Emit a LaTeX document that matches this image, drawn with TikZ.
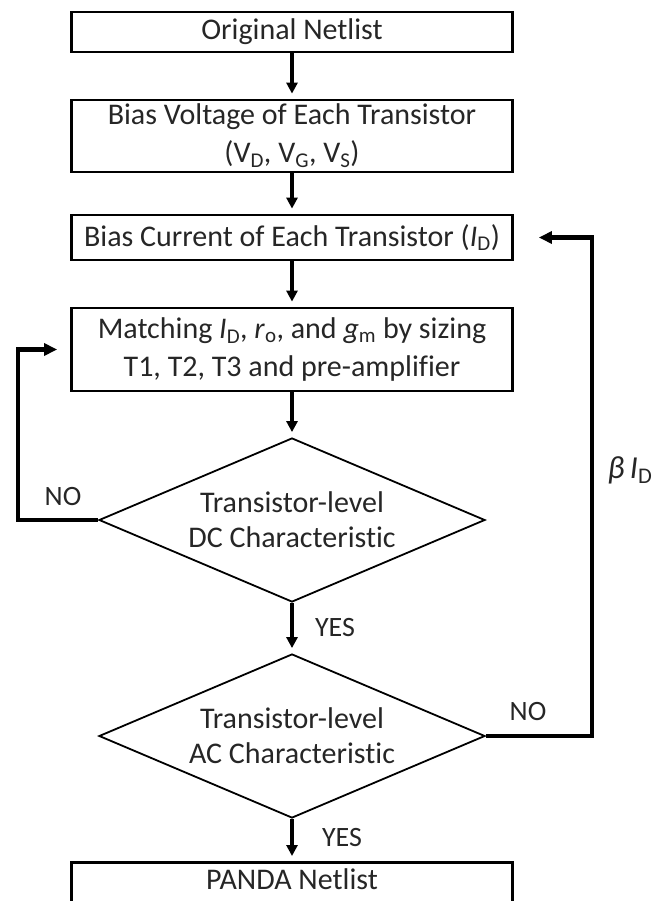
\documentclass[tikz,border=0pt]{standalone}
\usepackage{fontspec}
\setmainfont{Carlito}[Ligatures=NoCommon]
\usepackage{tikz}
\usetikzlibrary{shapes.geometric, arrows.meta, positioning, calc}
\tikzset{
	flowtext/.style={font=\fontsize{30}{38}\selectfont, text=black!85}
}
\tikzset{
	labeltext/.style={font=\fontsize{28}{30}\selectfont, text=black!85}
}
\tikzset{
	flowbox/.style={draw, line width=2.8pt, minimum width=441pt, inner sep=0pt, align=center, flowtext}
}
\tikzset{
	decision/.style={diamond, draw, line width=1.8pt, aspect=2.35, minimum width=386pt, minimum height=164pt, inner sep=-6pt, align=center, font=\fontsize{30}{35}\selectfont, text=black!85}
}
\tikzset{
	flowarrow/.style={line width=3.6pt, -{Triangle[length=11pt,width=11pt]}, shorten >=5pt}
}
\tikzset{
	loopline/.style={line width=4.6pt, -{Triangle[length=13pt,width=12pt]}}
}
\newcommand{\lowtxt}[1]{\textsubscript{#1}}

\begin{document}
\begin{tikzpicture}[x=1pt, y=-1pt]
  \clip (0,0) rectangle (662,901);
  \node[flowbox, minimum height=40pt] (orig) at (292,32) {Original Netlist};
  \node[flowbox, minimum height=72pt] (biasv) at (292,136) {Bias Voltage of Each Transistor\\(V\lowtxt{D}, V\lowtxt{G}, V\lowtxt{S})};
  \node[flowbox, minimum height=45pt] (biasi) at (292,237.5) {Bias Current of Each Transistor (\textit{I}\lowtxt{D})};
  \node[flowbox, minimum height=83pt] (match) at (292,349.5) {Matching \textit{I}\lowtxt{D}, \textit{r}\lowtxt{o}, and \textit{g}\lowtxt{m} by sizing\\T1, T2, T3 and pre-amplifier};
  \node[decision] (dcchk) at (292,520) {Transistor-level\\DC Characteristic};
  \node[decision] (acchk) at (292,736) {Transistor-level\\AC Characteristic};
  \node[flowbox, minimum height=46pt, text depth=12pt, anchor=north] (panda) at (292,861) {PANDA Netlist};

  \coordinate (lturn) at (18,520);
  \coordinate (rturn) at (592,736);

  \draw[flowarrow] (orig) -- (biasv);
  \draw[flowarrow] (biasv) -- (biasi);
  \draw[flowarrow] (biasi) -- (match);
  \draw[flowarrow] (match) -- (dcchk);
  \draw[flowarrow] (dcchk) -- (acchk);
  \draw[flowarrow] (acchk) -- (panda);
  \draw[loopline] (dcchk.west) -- (lturn) |- ([xshift=-13pt]match.west);
  \draw[loopline] (acchk.east) -- (rturn) |- ([xshift=25pt]biasi.east);

  \node[labeltext] (nodc) at (63,497) {NO};
  \node[labeltext] (noac) at (528,712) {NO};
  \node[labeltext] (yesdc) at (335,628) {YES};
  \node[labeltext] (yesac) at (342,837) {YES};
  \node[font=\fontsize{32}{34}\selectfont, text=black!85] (beta) at (630,470) {\textit{β\,I}\lowtxt{D}};
\end{tikzpicture}
\end{document}
